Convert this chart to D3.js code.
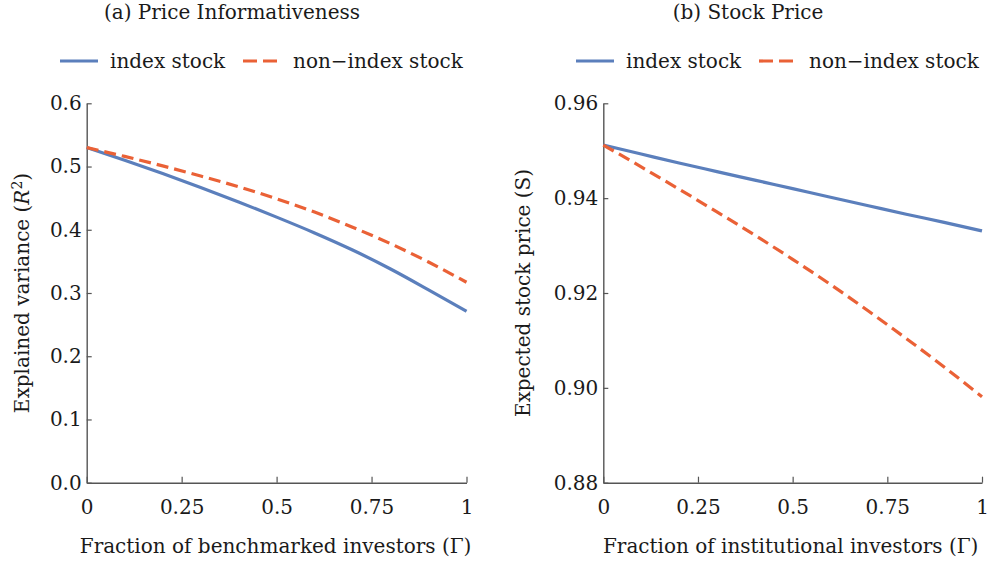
<!DOCTYPE html>
<html>
<head>
<meta charset="utf-8">
<script src="https://cdn.jsdelivr.net/npm/d3@7"></script>
<style>
  body { margin: 0; background: #fff; }
  svg text { font-family: "DejaVu Serif", serif; fill: #1a1a1a; }
</style>
</head>
<body>
<div id="plot"></div>
<script>
// shared x grid (fraction of investors)
var gamma = [0, 0.1, 0.2, 0.3, 0.4, 0.5, 0.6, 0.7, 0.8, 0.9, 1];

// (a) price informativeness, R^2
var r2Index    = [0.530, 0.510, 0.489, 0.467, 0.444, 0.420, 0.395, 0.368, 0.338, 0.305, 0.271];
var r2NonIndex = [0.530, 0.516, 0.501, 0.485, 0.468, 0.449, 0.428, 0.404, 0.378, 0.349, 0.317];

// (b) expected stock price
var priceIndex    = [0.9512, 0.9493, 0.9474, 0.9456, 0.9438, 0.9420, 0.9402, 0.9384, 0.9366, 0.9349, 0.9331];
var priceNonIndex = [0.9512, 0.9466, 0.9419, 0.9371, 0.9322, 0.9271, 0.9218, 0.9162, 0.9104, 0.9044, 0.8981];

var xTicks = [0, 0.25, 0.5, 0.75, 1];
var xTickLabels = ["0", "0.25", "0.5", "0.75", "1"];
var r2Ticks = [0, 0.1, 0.2, 0.3, 0.4, 0.5, 0.6];
var priceTicks = [0.88, 0.90, 0.92, 0.94, 0.96];

var seriesNames = ["index stock", "non\u2212index stock"];

var blue = "#5b7fbc", orange = "#ea6136";
var fs = "20px";

var width = 989, height = 570;

var svg = d3.select("#plot")
  .append("svg")
    .attr("width", width)
    .attr("height", height);

function panel(opt) {
  var x = d3.scaleLinear().domain([0, 1]).range([opt.left, opt.right]);
  var y = d3.scaleLinear().domain(opt.yDomain).range([482.7, 103.3]);

  var g = svg.append("g");

  // title
  g.append("text")
    .attr("x", opt.titleX)
    .attr("y", 19)
    .attr("text-anchor", "middle")
    .style("font-size", fs)
    .text(opt.title);

  // legend
  var leg = g.append("g").attr("transform", "translate(" + opt.legendX + ",0)");
  leg.append("line")
    .attr("x1", 0).attr("x2", 38).attr("y1", 61).attr("y2", 61)
    .attr("stroke", blue).attr("stroke-width", 3.2);
  leg.append("text")
    .attr("x", 50).attr("y", 68)
    .style("font-size", fs)
    .text(seriesNames[0]);
  leg.append("line")
    .attr("x1", opt.legendX2).attr("x2", opt.legendX2 + 36).attr("y1", 61).attr("y2", 61)
    .attr("stroke", orange).attr("stroke-width", 3.2)
    .attr("stroke-dasharray", "14,6");
  leg.append("text")
    .attr("x", opt.legendX2 + 50).attr("y", 68)
    .style("font-size", fs)
    .text(seriesNames[1]);

  // axes
  var xAxis = g.append("g")
    .attr("transform", "translate(0,482.7)")
    .call(d3.axisBottom(x)
      .tickValues(xTicks)
      .tickFormat(function(d, i) { return xTickLabels[i]; })
      .tickSizeInner(-6).tickSizeOuter(0).tickPadding(17));
  var yAxis = g.append("g")
    .attr("transform", "translate(" + opt.left + ",0)")
    .call(d3.axisLeft(y)
      .tickValues(opt.yTicks)
      .tickFormat(d3.format(opt.yFormat))
      .tickSizeInner(-5).tickSizeOuter(0).tickPadding(5));
  [xAxis, yAxis].forEach(function(a) {
    a.select(".domain").attr("stroke", "#555").attr("stroke-width", 1.4);
    a.selectAll(".tick line").attr("stroke", "#555").attr("stroke-width", 1.2);
    a.selectAll(".tick text")
      .style("font-family", "DejaVu Serif, serif")
      .style("font-size", fs)
      .attr("fill", "#1a1a1a");
  });

  // axis titles
  g.append("text")
    .attr("x", (opt.left + opt.right) / 2 + opt.xLabelShift)
    .attr("y", 553)
    .attr("text-anchor", "middle")
    .style("font-size", fs)
    .text(opt.xLabel);

  var yl = g.append("text")
    .attr("transform", "translate(" + opt.yLabelX + ",293) rotate(-90)")
    .attr("text-anchor", "middle")
    .style("font-size", fs);
  opt.yLabel(yl);

  // lines
  var line = d3.line()
    .x(function(d, i) { return x(gamma[i]); })
    .y(function(d) { return y(d); })
    .curve(d3.curveMonotoneX);

  g.append("path")
    .datum(opt.series[0])
    .attr("fill", "none")
    .attr("stroke", blue)
    .attr("stroke-width", 3.2)
    .attr("d", line);
  g.append("path")
    .datum(opt.series[1])
    .attr("fill", "none")
    .attr("stroke", orange)
    .attr("stroke-width", 3.2)
    .attr("stroke-dasharray", "12,6")
    .attr("d", line);
}

panel({
  left: 86.7, right: 466.5,
  yDomain: [0, 0.6], yTicks: r2Ticks, yFormat: ".1f",
  title: "(a) Price Informativeness", titleX: 232,
  legendX: 60, legendX2: 183,
  xLabel: "Fraction of benchmarked investors (\u0393)", xLabelShift: -1,
  yLabelX: 29,
  yLabel: function(t) {
    t.append("tspan").text("Explained variance (");
    t.append("tspan").style("font-style", "italic").text("R");
    t.append("tspan").attr("dy", -7).style("font-size", "14px").text("2");
    t.append("tspan").attr("dy", 7).text(")");
  },
  series: [r2Index, r2NonIndex]
});

panel({
  left: 603.3, right: 982,
  yDomain: [0.88, 0.96], yTicks: priceTicks, yFormat: ".2f",
  title: "(b) Stock Price", titleX: 748,
  legendX: 576, legendX2: 183,
  xLabel: "Fraction of institutional investors (\u0393)", xLabelShift: -2,
  yLabelX: 530,
  yLabel: function(t) { t.text("Expected stock price (S)"); },
  series: [priceIndex, priceNonIndex]
});
</script>
</body>
</html>
